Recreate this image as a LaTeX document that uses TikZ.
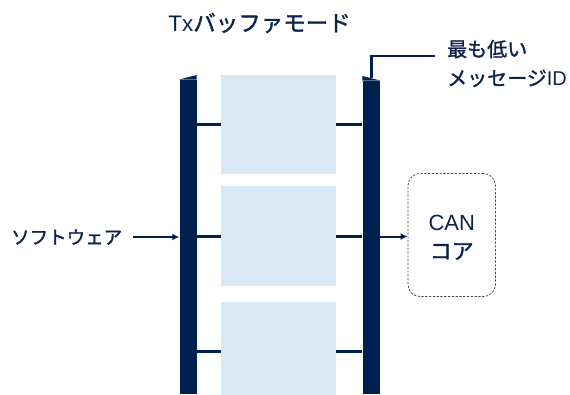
\documentclass[tikz,border=0pt]{standalone}
\usepackage{fontspec}
\setmainfont{Liberation Sans}
\newfontfamily\jp[FakeBold=1.4]{Noto Sans CJK JP}
\usetikzlibrary{arrows.meta}
\definecolor{navy}{RGB}{0,33,80}
\definecolor{txt}{RGB}{14,34,74}
\definecolor{buf}{RGB}{218,232,245}
\definecolor{dashc}{RGB}{70,70,70}
\begin{document}
\begin{tikzpicture}[x=1pt,y=-1pt,
  barbox/.style={fill=navy,draw=none,inner sep=0pt,minimum width=17pt,anchor=north},
  bufbox/.style={fill=buf,draw=none,inner sep=0pt,minimum width=115pt,anchor=north},
  link/.style={draw=navy,line width=3pt},
  arr/.style={draw=navy,line width=2pt,-{Latex[length=7pt,width=7pt]}},
  lbl/.style={text=txt,inner sep=0pt,font=\fontsize{19}{23}\selectfont}]
\useasboundingbox (0,0) rectangle (570,394);
% bars
\node[barbox,minimum height=314.5pt] (lbar) at (188,79.5) {};
\fill[navy] (lbar.north west) -- (lbar.north east |- 0,75) -- (lbar.north east) -- cycle;
\node[barbox,minimum width=17.5pt,minimum height=313.5pt] (rbar) at (371.25,80.5) {};
\fill[navy] (rbar.north west) -- (rbar.north west |- 0,76) -- (rbar.north east) -- cycle;
% buffers
\node[bufbox,minimum height=99pt] (b1) at (278.5,75) {};
\node[bufbox,minimum height=100pt] (b2) at (278.5,186) {};
\node[bufbox,minimum height=93pt] (b3) at (278.5,301.5) {};
% links
\coordinate (y1) at (0,124);
\coordinate (y2) at (0,236.5);
\coordinate (y3) at (0,351);
\foreach \b/\yy in {b1/y1,b2/y2,b3/y3}{
  \draw[link] (lbar.east |- \yy) -- (\b.west |- \yy);
  \draw[link] (\b.east |- \yy) -- (rbar.west |- \yy);
}
% title
\node[lbl,font=\fontsize{22.5}{26}\selectfont] (title) at (259.5,23) {Tx{\jp バッファモード}};
% label
\node[lbl,anchor=west,align=left,font=\fontsize{20}{29}\selectfont] (lowid) at (447,63.5) {{\jp 最も低い}\\{\jp メッセージ}ID};
\coordinate (lblend) at (435,56);
\draw[link,line width=2.6pt] (rbar.north |- 0,78) -- (rbar.north |- lblend) -- (lblend);
% CAN core
\node[draw=dashc,dashed,dash pattern=on 2.2pt off 1.6pt,line width=0.8pt,rounded corners=12pt,
  minimum width=87.5pt,minimum height=123pt,inner sep=0pt] (can) at (451.75,235) {};
\node[lbl,font=\fontsize{22}{26}\selectfont] (cant) at (451.75,222.5) {CAN};
\node[lbl,font=\fontsize{22}{26}\selectfont] (cant2) at (451.75,251.5) {\jp コア};
\draw[arr] (rbar.east |- y2) -- (can.west |- y2);
% software
\node[lbl,anchor=west,font=\fontsize{18.5}{23}\selectfont] (sw) at (11,237) {\jp ソフトウェア};
\draw[arr] (133,237) coordinate (swend) -- (lbar.west |- swend);
\end{tikzpicture}
\end{document}
